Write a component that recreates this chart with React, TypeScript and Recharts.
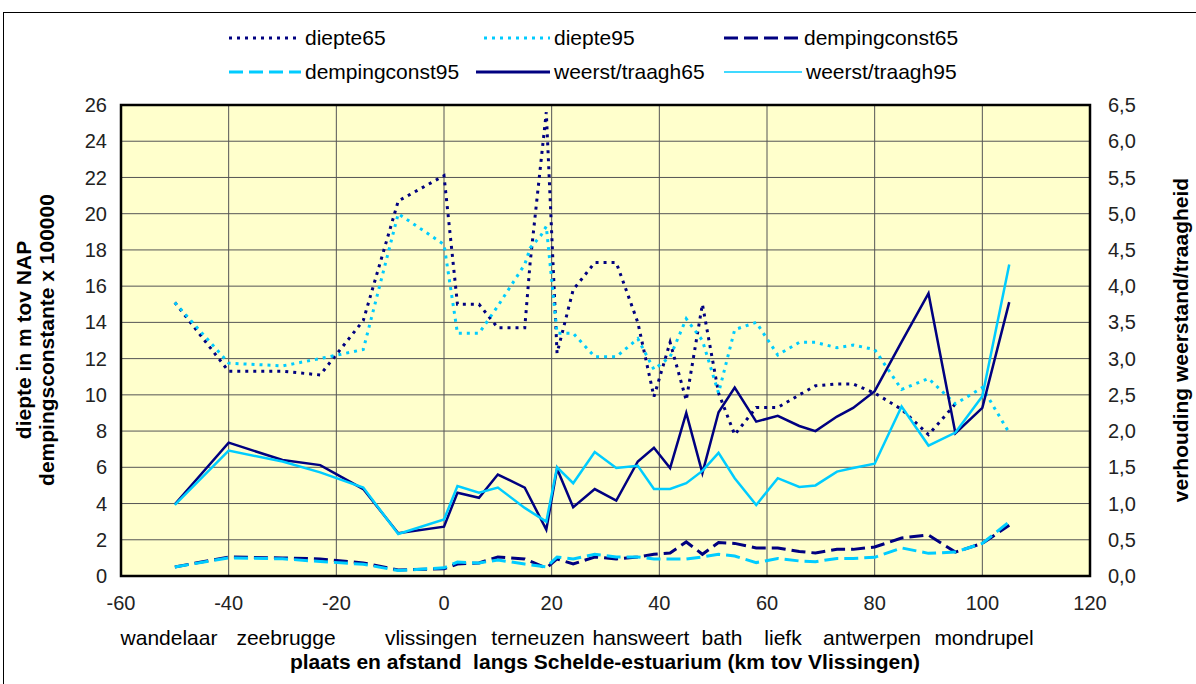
import React from 'react';
import { LineChart, Line, XAxis, YAxis, CartesianGrid, ReferenceArea } from 'recharts';

// km tov Vlissingen
const km = [-50, -40, -30, -23, -15, -8.5, 0, 2.5, 6.5, 10, 15, 16, 18, 19, 21, 24, 28, 32, 36, 39, 42, 45, 48, 51, 54, 58, 62, 66, 69, 73, 76, 80, 85, 90, 95, 100, 105];

// left axis (m / x 100000)
const diepte65 = [15.1, 11.3, 11.3, 11.1, 14.1, 20.7, 22.1, 15.0, 15.0, 13.7, 13.7, 17.3, null, 25.6, 12.3, 15.8, 17.3, 17.3, 14.0, 9.9, 12.9, 9.7, 15.0, 10.1, 7.8, 9.3, 9.3, 10.0, 10.5, 10.6, 10.6, 10.1, 9.2, 7.8, 9.5, null, null];
const diepte95 = [15.1, 11.75, 11.6, 12.0, 12.5, 20.0, 18.3, 13.4, 13.4, 14.9, 17.2, 18.1, 18.8, 19.3, 13.4, 13.4, 12.1, 12.1, 13.1, 11.4, 12.1, 14.2, 13.0, 10.1, 13.6, 14.0, 12.2, 12.9, 12.9, 12.6, 12.75, 12.5, 10.3, 10.9, 9.5, 10.4, 7.9];
const demping65 = [0.5, 1.05, 1.0, 0.94, 0.72, 0.33, 0.4, 0.66, 0.72, 1.05, 0.94, null, null, 0.44, 0.94, 0.66, 1.05, 0.94, 1.05, 1.2, 1.27, 1.88, 1.2, 1.85, 1.8, 1.55, 1.55, 1.35, 1.27, 1.47, 1.47, 1.6, 2.1, 2.26, 1.32, 1.8, 2.8];
const demping95 = [0.5, 1.0, 0.95, 0.8, 0.65, 0.3, 0.45, 0.77, 0.72, 0.88, 0.66, null, null, 0.5, 1.05, 0.94, 1.2, 1.05, 1.05, 0.94, 0.94, 0.94, 1.05, 1.2, 1.1, 0.74, 0.97, 0.83, 0.79, 0.97, 0.97, 1.03, 1.55, 1.25, 1.32, 1.8, 3.0];

// right axis (verhouding)
const weerst65 = [0.99, 1.84, 1.6, 1.53, 1.2, 0.59, 0.68, 1.15, 1.08, 1.4, 1.22, null, null, 0.64, 1.48, 0.95, 1.2, 1.04, 1.58, 1.77, 1.49, 2.25, 1.42, 2.26, 2.6, 2.13, 2.21, 2.07, 2.0, 2.2, 2.32, 2.55, 3.23, 3.9, 1.97, 2.32, 3.78];
const weerst95 = [0.98, 1.73, 1.58, 1.43, 1.22, 0.58, 0.78, 1.24, 1.15, 1.22, 0.94, null, null, 0.75, 1.5, 1.28, 1.71, 1.49, 1.52, 1.2, 1.2, 1.28, 1.45, 1.7, 1.35, 0.98, 1.35, 1.23, 1.25, 1.44, 1.49, 1.55, 2.34, 1.8, 1.98, 2.48, 4.3];

const xTicks = [-60, -40, -20, 0, 20, 40, 60, 80, 100, 120];
const leftTicks = [0, 2, 4, 6, 8, 10, 12, 14, 16, 18, 20, 22, 24, 26];
const rightTicks = [0, 0.5, 1, 1.5, 2, 2.5, 3, 3.5, 4, 4.5, 5, 5.5, 6, 6.5];

const places = [
  { name: 'wandelaar', x: 169 },
  { name: 'zeebrugge', x: 286 },
  { name: 'vlissingen', x: 431 },
  { name: 'terneuzen', x: 538 },
  { name: 'hansweert', x: 641 },
  { name: 'bath', x: 722 },
  { name: 'liefk', x: 783 },
  { name: 'antwerpen', x: 872 },
  { name: 'mondrupel', x: 984 },
];

const NAVY = '#000080';
const CYAN = '#00CCFF';
const FONT = '"Liberation Sans", Arial, Helvetica, sans-serif';

const legendItems = [
  { label: 'diepte65', color: NAVY, dash: '3 5', w: 3, x: 229, len: 72, y: 38 },
  { label: 'diepte95', color: CYAN, dash: '3 5', w: 3, x: 484, len: 66, y: 38 },
  { label: 'dempingconst65', color: NAVY, dash: '14 6', w: 3, x: 724, len: 76, y: 38 },
  { label: 'dempingconst95', color: CYAN, dash: '14 6', w: 3, x: 229, len: 72, y: 72 },
  { label: 'weerst/traagh65', color: NAVY, dash: undefined, w: 3, x: 476, len: 74, y: 72 },
  { label: 'weerst/traagh95', color: CYAN, dash: undefined, w: 1.5, x: 724, len: 78, y: 72 },
];

const App = () => {
  const data = km.map((k, i) => ({
    km: k,
    d65: diepte65[i],
    d95: diepte95[i],
    dc65: demping65[i],
    dc95: demping95[i],
    wt65: weerst65[i],
    wt95: weerst95[i],
  }));

  const tickStyle = { fill: '#222', fontSize: 20, fontFamily: FONT };
  const vLabel = { position: 'absolute' as const, width: 400, textAlign: 'center' as const, transform: 'rotate(-90deg)', fontSize: 21, fontWeight: 'bold' as const, color: '#000', lineHeight: '22px' };

  return (
    <div style={{ position: 'fixed', left: 0, top: 0, width: 1196, height: 684, overflow: 'hidden', background: '#fff', fontFamily: FONT }}>
      <div style={{ position: 'absolute', left: 3, top: 12, width: 1250, height: 720, border: '1.5px solid #000' }} />

      {legendItems.map((it) => (
        <div key={it.label} style={{ position: 'absolute', left: it.x, top: it.y - 12, height: 24, display: 'flex', alignItems: 'center', fontSize: 21, color: '#000' }}>
          <svg width={it.len + 4} height={10}>
            <line x1={0} y1={5} x2={it.len} y2={5} stroke={it.color} strokeWidth={it.w} strokeDasharray={it.dash} />
          </svg>
          <span>{it.label}</span>
        </div>
      ))}

      <LineChart
        width={1196}
        height={684}
        data={data}
        margin={{ top: 105, right: 20, bottom: 58, left: 20 }}
        style={{ position: 'absolute', left: 0, top: 0 }}
      >
        <CartesianGrid yAxisId="left" stroke="#555" strokeWidth={1} fill="#FFFFCC" fillOpacity={1} />
        <XAxis
          dataKey="km"
          type="number"
          domain={[-60, 120]}
          ticks={xTicks}
          tickSize={0}
          tickMargin={20}
          axisLine={false}
          tick={tickStyle}
          height={50}
          allowDataOverflow
        />
        <YAxis
          yAxisId="left"
          domain={[0, 26]}
          ticks={leftTicks}
          tickSize={0}
          tickMargin={14}
          axisLine={false}
          tick={tickStyle}
          width={101}
          allowDataOverflow
        />
        <YAxis
          yAxisId="right"
          orientation="right"
          domain={[0, 6.5]}
          ticks={rightTicks}
          tickFormatter={(v: number) => v.toFixed(1).replace('.', ',')}
          tickSize={0}
          tickMargin={18}
          axisLine={false}
          tick={tickStyle}
          width={86}
          allowDataOverflow
        />
        <ReferenceArea yAxisId="left" x1={-60} x2={120} y1={0} y2={26} fill="none" stroke="#000" strokeWidth={2.5} />
        <Line yAxisId="left" dataKey="d65" stroke={NAVY} strokeWidth={3} strokeDasharray="3 5" dot={false} connectNulls isAnimationActive={false} />
        <Line yAxisId="left" dataKey="d95" stroke={CYAN} strokeWidth={3} strokeDasharray="3 5" dot={false} connectNulls isAnimationActive={false} />
        <Line yAxisId="left" dataKey="dc65" stroke={NAVY} strokeWidth={3} strokeDasharray="14 6" dot={false} connectNulls isAnimationActive={false} />
        <Line yAxisId="left" dataKey="dc95" stroke={CYAN} strokeWidth={3} strokeDasharray="14 6" dot={false} connectNulls isAnimationActive={false} />
        <Line yAxisId="right" dataKey="wt65" stroke={NAVY} strokeWidth={2.5} dot={false} connectNulls isAnimationActive={false} />
        <Line yAxisId="right" dataKey="wt95" stroke={CYAN} strokeWidth={2.5} dot={false} connectNulls isAnimationActive={false} />
      </LineChart>

      {places.map((p) => (
        <div key={p.name} style={{ position: 'absolute', left: p.x - 70, width: 140, top: 626, textAlign: 'center', fontSize: 21, color: '#000' }}>
          {p.name}
        </div>
      ))}
      <div style={{ position: 'absolute', left: 155, width: 900, top: 650, textAlign: 'center', fontSize: 21, fontWeight: 'bold', color: '#000' }}>
        plaats en afstand&nbsp; langs Schelde-estuarium (km tov Vlissingen)
      </div>

      <div style={{ ...vLabel, left: 24 - 200, top: 340 - 11 }}>diepte in m tov NAP</div>
      <div style={{ ...vLabel, left: 47 - 200, top: 340 - 11 }}>dempingsconstante x 100000</div>
      <div style={{ ...vLabel, left: 1181 - 200, top: 340 - 11 }}>verhouding weerstand/traagheid</div>
    </div>
  );
};

export default App;
